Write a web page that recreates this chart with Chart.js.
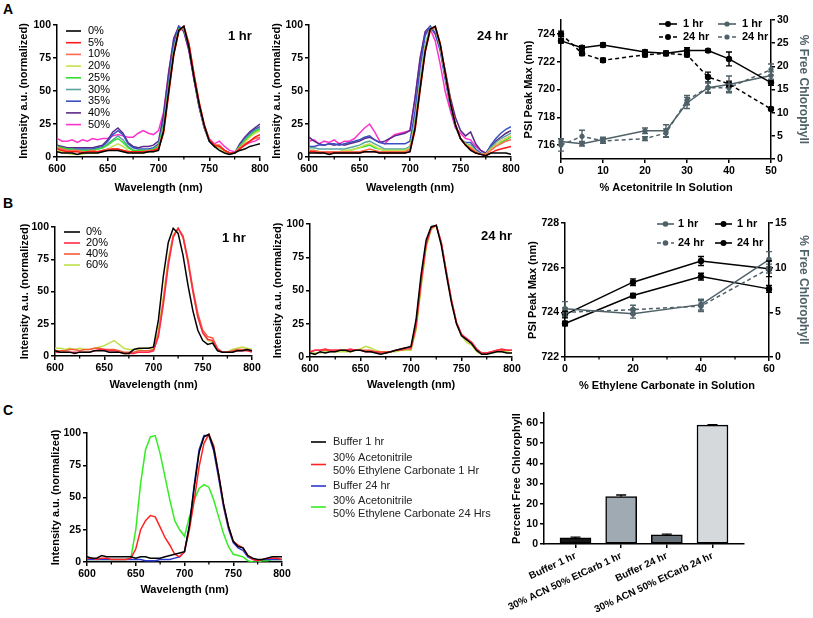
<!DOCTYPE html>
<html><head><meta charset="utf-8">
<script src="https://cdn.jsdelivr.net/npm/chart.js@4.4.1/dist/chart.umd.min.js"></script>
<style>
html,body{margin:0;padding:0;background:#fff;}
body{width:813px;height:618px;position:relative;overflow:hidden;}
canvas{position:absolute;}
.pl{position:absolute;font:bold 14px "Liberation Sans",Arial,sans-serif;line-height:14px;color:#000;}
</style></head><body>
<div class="pl" style="left:3px;top:2px">A</div>
<div class="pl" style="left:3px;top:196px">B</div>
<div class="pl" style="left:3px;top:403px">C</div>
<canvas id="cA1"></canvas><canvas id="cA2"></canvas><canvas id="cA3"></canvas>
<canvas id="cB1"></canvas><canvas id="cB2"></canvas><canvas id="cB3"></canvas>
<canvas id="cC2"></canvas><canvas id="cC1"></canvas>
<script>
// ---------- shared axis values ----------
const WL = [600,605,610,615,620,625,630,635,640,645,650,655,660,665,670,675,680,685,690,695,700,705,710,715,720,725,730,735,740,745,750,755,760,765,770,775,780,785,790,795,800];
const WL_TICKS = [600,650,700,750,800];
const WL_MINOR = [625,675,725,775];
const INT_TICKS = [0,25,50,75,100];

// ---------- A: acetonitrile, 1 hr ----------
const A_LABELS = ['0%','5%','10%','20%','25%','30%','35%','40%','50%'];
const A1_0  = [4,3,3,3,2,3,3,3,3,4,5,5,5,4,3,3,3,3,4,4,5,20,50,78,96,99,83,60,40,24,12,8,5,3,2,3,5,6,8,9,10];
const A1_5  = [6,5,4,4,4,3,4,4,4,5,5,6,6,5,4,4,4,4,4,5,6,18,47,77,95,99,86,63,42,25,13,9,8,5,3,3,6,9,12,15,17];
const A1_10 = [7,6,5,5,5,4,4,5,4,5,6,6,6,5,4,4,4,4,5,5,7,20,49,79,96,99,85,62,41,24,13,9,9,5,3,3,7,10,12,14,15];
const A1_20 = [5,4,3,2,2,2,3,3,3,4,6,8,10,8,5,3,3,3,4,4,6,21,50,79,96,98,85,62,41,24,13,8,7,4,3,3,7,11,15,18,20];
const A1_25 = [8,7,6,6,5,5,5,5,6,7,9,12,14,11,7,5,5,5,5,6,8,23,52,80,97,98,84,61,40,24,13,9,8,5,3,3,8,12,16,19,21];
const A1_30 = [7,6,5,5,5,5,5,5,6,7,10,13,16,13,8,5,5,5,5,6,9,25,54,82,97,97,84,61,40,23,12,8,7,4,3,3,8,13,17,20,22];
const A1_35 = [8,7,6,6,6,6,6,6,7,8,12,17,20,17,10,7,6,6,6,7,10,27,58,86,99,96,82,60,39,23,12,8,8,5,3,3,9,14,18,21,23];
const A1_40 = [9,8,7,7,7,7,7,7,8,9,13,19,22,18,11,8,7,8,8,9,12,32,64,90,99,95,81,59,38,22,12,8,8,5,3,3,10,15,19,22,25];
const A1_50 = [14,12,12,13,11,13,12,14,13,14,14,16,17,16,15,15,18,20,18,17,20,34,64,88,99,95,80,58,38,23,14,10,12,8,5,4,7,9,11,12,14];

// ---------- A: acetonitrile, 24 hr ----------
const A2_0  = [3,3,3,3,2,3,3,3,3,3,3,4,4,4,3,3,3,3,3,3,4,22,52,80,97,99,85,63,41,24,14,9,5,3,2,1,3,3,3,3,2];
const A2_5  = [4,4,3,3,3,3,3,3,3,3,3,4,4,4,3,3,3,3,3,3,4,20,50,79,96,99,86,64,42,25,14,9,6,3,2,1,3,5,6,7,8];
const A2_10 = [5,5,4,4,4,4,4,4,4,4,4,5,6,5,4,4,4,4,4,4,6,23,53,81,97,98,85,63,41,24,14,9,7,4,2,2,5,8,10,12,13];
const A2_20 = [5,5,4,4,4,4,4,5,5,6,7,9,10,8,6,5,5,5,5,5,7,25,55,83,97,98,84,62,41,24,14,10,8,4,2,2,6,9,12,14,16];
const A2_25 = [5,5,4,4,4,4,4,5,5,6,7,8,9,7,6,5,5,5,5,5,7,25,55,83,97,98,84,62,41,24,14,10,8,4,2,2,6,9,11,13,15];
const A2_30 = [7,7,6,6,6,6,6,6,7,8,9,11,12,10,8,6,6,6,6,6,8,28,58,85,98,97,83,61,40,24,14,10,9,5,2,2,7,11,14,16,18];
const A2_35 = [8,8,9,9,10,10,9,10,11,12,13,15,16,13,11,10,10,10,10,10,12,35,68,92,99,94,80,58,38,23,14,11,11,6,3,2,9,14,18,21,23];
const A2_40 = [15,12,10,9,10,9,10,9,10,11,12,14,15,13,11,12,14,16,17,18,20,45,75,95,99,93,82,65,45,30,20,16,19,10,5,3,8,12,15,18,20];
const A2_50 = [12,13,10,12,11,13,10,12,12,14,18,22,25,19,12,10,14,17,18,19,20,44,74,94,97,88,70,49,35,22,18,14,13,8,5,3,6,9,12,14,16];

const A_COLORS = ['#000000','#ff1a1a','#ff6a4d','#c8e04a','#33dd33','#5aa5a0','#3a4fc0','#5a2a8a','#ff33cc'];

// ---------- A: peak max & free chlorophyll ----------
const ACN = [0,5,10,20,25,30,35,40,50];
const ACN_TICKS = [0,10,20,30,40,50];
const PEAK_TICKS_A = [716,718,720,722,724];
const FREE_TICKS_A = [0,5,10,15,20,25,30];
const A3_PEAK_1H      = [723.5,723.0,723.2,722.7,722.6,722.8,722.8,722.2,720.5];
const A3_PEAK_1H_ERR  = [0.15,0.15,0.15,0.15,0.15,0.2,0.1,0.5,0.2];
const A3_PEAK_24H     = [724.0,722.6,722.1,722.5,722.6,722.5,720.9,720.4,718.6];
const A3_PEAK_24H_ERR = [0.2,0.15,0.15,0.15,0.15,0.15,0.35,0.2,0.1];
const A3_FREE_1H      = [3.8,3.3,4.2,6.1,6.1,12.1,15.4,16.1,18.0];
const A3_FREE_1H_ERR  = [0.6,0.5,0.5,0.6,1.3,1.2,1.2,1.8,0.8];
const A3_FREE_24H     = [3.0,4.9,3.9,4.4,5.6,12.7,15.4,15.4,19.3];
const A3_FREE_24H_ERR = [1.3,1.3,0.5,0.4,0.9,1.0,1.0,0.8,1.2];

// ---------- B: ethylene carbonate ----------
const B_LABELS = ['0%','20%','40%','60%'];
const B_COLORS = ['#000000','#ff2a4a','#f45a3a','#bfe04a'];
const B1_0  = [4,3,3,3,2,3,3,3,4,4,4,3,3,3,2,2,5,6,6,6,7,28,62,88,99,95,78,55,35,20,12,9,10,4,3,3,3,4,4,5,4];
const B1_20 = [3,3,3,3,3,3,3,3,4,5,5,4,4,3,2,2,2,3,3,3,4,15,40,70,92,99,92,73,50,30,18,13,12,5,3,3,3,4,4,4,3];
const B1_40 = [4,4,4,5,5,4,5,5,6,6,5,5,5,4,3,3,3,4,4,4,5,17,43,73,93,99,93,75,52,33,20,15,14,6,3,3,4,5,5,5,4];
const B1_60 = [6,6,5,6,5,6,5,5,6,7,8,10,12,9,6,5,5,5,6,6,6,20,46,75,94,99,92,73,50,31,18,12,11,5,3,3,5,6,7,6,5];
const B2_0  = [3,2,4,3,4,4,5,5,4,5,5,4,4,3,2,3,4,5,6,7,8,28,62,88,98,99,84,62,41,25,16,13,10,5,2,2,3,4,4,3,3];
const B2_20 = [4,5,5,6,5,5,5,5,6,5,5,4,4,4,3,3,4,5,6,7,7,24,58,85,97,99,86,64,43,26,17,14,11,6,3,3,4,5,6,5,5];
const B2_40 = [4,5,5,5,5,5,5,5,5,5,5,5,5,4,4,4,4,5,5,6,6,22,55,84,97,99,86,64,43,26,17,13,11,6,3,3,4,5,5,5,5];
const B2_60 = [3,3,3,4,4,4,4,4,4,5,6,8,7,5,4,3,4,4,5,5,5,20,52,82,96,99,86,64,43,26,16,11,9,4,2,2,3,4,4,4,3];

const EC = [0,20,40,60];
const EC_TICKS = [0,20,40,60];
const EC_MINOR = [10,30,50];
const PEAK_TICKS_B = [722,724,726,728];
const FREE_TICKS_B = [0,5,10,15];
const B3_FREE_1H      = [5.4,4.85,5.86,10.9];
const B3_FREE_1H_ERR  = [0.8,0.5,0.6,0.9];
const B3_FREE_24H     = [5.0,5.3,5.7,9.9];
const B3_FREE_24H_ERR = [0.5,0.5,0.6,0.5];
const B3_PEAK_1H      = [723.5,724.75,725.6,725.05];
const B3_PEAK_1H_ERR  = [0.1,0.1,0.15,0.15];
const B3_PEAK_24H     = [723.9,725.35,726.3,725.95];
const B3_PEAK_24H_ERR = [0.15,0.15,0.2,0.35];

// ---------- C ----------
const C_COLORS = ['#000000','#ff2222','#2a3ad0','#33ee22'];
const C1_BUF1  = [4,3,3,5,4,4,4,4,4,4,3,4,4,3,3,3,4,5,6,7,8,28,58,85,97,99,88,68,45,28,16,12,11,5,3,2,2,3,4,4,4];
const C1_MIX1  = [3,3,2,3,3,2,2,2,2,3,10,25,32,36,35,27,19,13,6,4,8,25,48,74,92,99,90,68,45,28,16,13,11,5,2,1,2,3,3,3,2];
const C1_BUF24 = [2,2,2,2,2,2,2,2,2,2,2,2,1,1,1,2,2,2,3,4,8,28,60,87,98,98,86,65,43,26,15,11,9,4,2,1,2,2,2,2,2];
const C1_MIX24 = [2,2,2,2,2,2,2,2,2,3,25,61,87,97,98,84,66,48,32,25,20,35,48,57,60,58,48,35,22,12,6,5,4,1,0,0,1,1,2,2,2];

const C2_LABELS = ['Buffer 1 hr','30% ACN 50% EtCarb 1 hr','Buffer 24 hr','30% ACN 50% EtCarb 24 hr'];
const C2_VALUES = [3.0,23.5,4.5,59.0];
const C2_ERR    = [0.4,0.8,0.4,0.2];
const C2_COLORS = ['#151515','#a0aab2','#6a7279','#d5d9db'];
const C2_TICKS  = [0,10,20,30,40,50,60];

// ---------- plugins ----------
const FF = '"Liberation Sans", Arial, Helvetica, sans-serif';
const GRAY = '#4f6168';

const overlayPlugin = {
  id: 'overlay',
  afterDraw(chart, args, opts) {
    const ctx = chart.ctx;
    const ox = parseFloat(chart.canvas.style.left), oy = parseFloat(chart.canvas.style.top);
    ctx.save();
    (opts.minorX || []).forEach(v => {
      const s = chart.scales.x, px = s.getPixelForValue(v);
      ctx.strokeStyle = '#000'; ctx.lineWidth = 1.3;
      ctx.beginPath(); ctx.moveTo(px, s.top); ctx.lineTo(px, s.top + 2.5); ctx.stroke();
    });
    (opts.items || []).forEach(it => {
      if (it.line) {
        ctx.strokeStyle = it.color; ctx.lineWidth = it.lw || 1.6;
        ctx.setLineDash(it.dash || []);
        ctx.beginPath(); ctx.moveTo(it.line[0] - ox, it.y - oy); ctx.lineTo(it.line[1] - ox, it.y - oy); ctx.stroke();
        ctx.setLineDash([]);
        if (it.dot) {
          ctx.fillStyle = it.color; ctx.beginPath();
          ctx.arc((it.line[0] + it.line[1]) / 2 - ox, it.y - oy, it.dot, 0, Math.PI * 2); ctx.fill();
        }
      }
      if (it.text) {
        ctx.fillStyle = it.tcolor || '#000'; ctx.font = it.font; ctx.textBaseline = 'middle'; ctx.textAlign = 'left';
        const lines = Array.isArray(it.text) ? it.text : [it.text];
        const lh = it.lh || 13;
        lines.forEach((t, i) => ctx.fillText(t, it.tx - ox, it.y - oy + (i - (lines.length - 1) / 2) * lh));
      }
    });
    ctx.restore();
  }
};

const errorPlugin = {
  id: 'errbars',
  afterDatasetsDraw(chart) {
    const ctx = chart.ctx;
    chart.data.datasets.forEach((ds, i) => {
      if (!ds.errors) return;
      const meta = chart.getDatasetMeta(i);
      const ys = chart.scales[meta.yAxisID];
      ctx.save();
      ctx.strokeStyle = ds.errorColor || ds.borderColor; ctx.lineWidth = 1.4;
      const cap = ds.cap || 3;
      meta.data.forEach((el, j) => {
        const e = ds.errors[j]; if (!e) return;
        const d = ds.data[j]; const v = typeof d === 'object' ? d.y : d;
        const x = el.x, yt = ys.getPixelForValue(v + e), yb = ds.upOnly ? ys.getPixelForValue(v) : ys.getPixelForValue(v - e);
        ctx.beginPath();
        ctx.moveTo(x, yb); ctx.lineTo(x, yt);
        ctx.moveTo(x - cap, yt); ctx.lineTo(x + cap, yt);
        if (!ds.upOnly) { ctx.moveTo(x - cap, yb); ctx.lineTo(x + cap, yb); }
        ctx.stroke();
      });
      ctx.restore();
    });
  }
};
Chart.register(overlayPlugin, errorPlugin);
Chart.defaults.font.family = FF;
Chart.defaults.color = '#000';

// ---------- helpers ----------
function axis(min, max, ticks, title, opts = {}) {
  return Object.assign({
    type: 'linear', min, max,
    border: { display: true, color: '#000', width: 1.5 },
    grid: { display: true, drawOnChartArea: false, drawTicks: true, tickLength: 4, color: '#000', lineWidth: 1.5 },
    ticks: { color: '#000', font: { family: FF, size: opts.tickSize || 10.5, weight: 'bold' }, padding: 2, maxRotation: 0, autoSkip: false },
    title: { display: !!title, text: title, color: opts.titleColor || '#000', padding: opts.titlePad || 2,
             font: { family: FF, size: opts.titleSize || 11, weight: 'bold' } },
    afterBuildTicks: s => { s.ticks = ticks.map(v => ({ value: v })); }
  }, opts.extra || {});
}

function place(id, box, area, cfg) {
  const cv = document.getElementById(id);
  cv.width = box.w; cv.height = box.h;
  cv.style.left = box.x + 'px'; cv.style.top = box.y + 'px';
  cv.style.width = box.w + 'px'; cv.style.height = box.h + 'px';
  const o = cfg.options;
  o.responsive = false; o.animation = false; o.devicePixelRatio = 1; o.maintainAspectRatio = false;
  const hasRight = !!o.scales.y2;
  o.layout = { padding: { left: 0, top: area.T - box.y, right: hasRight ? 0 : box.x + box.w - area.R, bottom: 0 } };
  o.scales.x.afterFit = s => { s.height = box.y + box.h - area.B; };
  o.scales.y.afterFit = s => { s.width = area.L - box.x; };
  if (hasRight) o.scales.y2.afterFit = s => { s.width = box.x + box.w - area.R; };
  o.plugins = Object.assign({ legend: { display: false }, tooltip: { enabled: false } }, o.plugins || {});
  return new Chart(cv, cfg);
}

function specSets(arrs, colors) {
  return arrs.map((a, k) => ({
    data: WL.map((w, i) => ({ x: w, y: a[i] })),
    borderColor: colors[k], borderWidth: 1.5, pointRadius: 0, fill: false, tension: 0
  }));
}

function spectrum(id, box, area, arrs, colors, items) {
  return place(id, box, area, {
    type: 'line',
    data: { datasets: specSets(arrs, colors) },
    options: {
      scales: {
        x: axis(600, 800, WL_TICKS, 'Wavelength (nm)'),
        y: axis(0, 100, INT_TICKS, 'Intensity a.u. (normalized)')
      },
      plugins: { overlay: { minorX: WL_MINOR, items } }
    }
  });
}

function legendRows(labels, colors, x1, x2, tx, y0, dy, font) {
  return labels.map((t, i) => ({ line: [x1, x2], y: y0 + dy * i, color: colors[i], text: t, tx, font }));
}

const LEG_FONT = '11px ' + FF;
const HR_FONT = 'bold 13px ' + FF;

// ---------- A1 ----------
spectrum('cA1', { x: 15, y: 10, w: 259, h: 187 }, { L: 57, T: 25, R: 260, B: 157 },
  [A1_0, A1_5, A1_10, A1_20, A1_25, A1_30, A1_35, A1_40, A1_50], A_COLORS,
  legendRows(A_LABELS, A_COLORS, 66, 81, 88, 31, 11.7, LEG_FONT).concat([{ text: '1 hr', tx: 228, y: 36, font: HR_FONT }]));

// ---------- A2 ----------
spectrum('cA2', { x: 268, y: 10, w: 257, h: 187 }, { L: 309, T: 25, R: 511, B: 157 },
  [A2_0, A2_5, A2_10, A2_20, A2_25, A2_30, A2_35, A2_40, A2_50], A_COLORS,
  [{ text: '24 hr', tx: 477, y: 36, font: HR_FONT }]);

// ---------- A3 ----------
function ptSet(xs, ys, errs, color, axisId, dashed, r) {
  return {
    data: xs.map((x, i) => ({ x, y: ys[i] })), errors: errs, yAxisID: axisId,
    borderColor: color, backgroundColor: color, borderWidth: 1.5, borderDash: dashed ? [4, 3] : [],
    pointRadius: r, pointHoverRadius: r, pointBorderWidth: 0, pointBackgroundColor: color, fill: false, tension: 0, clip: false
  };
}
const A3_FONT = 'bold 11px ' + FF;
place('cA3', { x: 520, y: 8, w: 293, h: 189 }, { L: 561, T: 20, R: 771, B: 159 }, {
  type: 'line',
  data: { datasets: [
    ptSet(ACN, A3_PEAK_1H, A3_PEAK_1H_ERR, '#000', 'y', false, 3.2),
    ptSet(ACN, A3_PEAK_24H, A3_PEAK_24H_ERR, '#000', 'y', true, 3.2),
    ptSet(ACN, A3_FREE_1H, A3_FREE_1H_ERR, GRAY, 'y2', false, 2.6),
    ptSet(ACN, A3_FREE_24H, A3_FREE_24H_ERR, GRAY, 'y2', true, 2.6)
  ] },
  options: {
    scales: {
      x: axis(0, 50, ACN_TICKS, '% Acetonitrile In Solution'),
      y: axis(715, 725, PEAK_TICKS_A, 'PSI Peak Max (nm)'),
      y2: axis(0, 30, FREE_TICKS_A, '% Free Chlorophyll', { titleColor: GRAY, titleSize: 12, extra: { position: 'right' } })
    },
    plugins: { overlay: { items: [
      { line: [659, 677], y: 24, color: '#000', dot: 3, text: '1 hr', tx: 683, font: A3_FONT },
      { line: [659, 677], y: 37, color: '#000', dash: [4, 3], dot: 3, text: '24 hr', tx: 683, font: A3_FONT },
      { line: [718, 736], y: 24, color: GRAY, dot: 2.6, text: '1 hr', tx: 742, font: A3_FONT },
      { line: [718, 736], y: 37, color: GRAY, dash: [4, 3], dot: 2.6, text: '24 hr', tx: 742, font: A3_FONT }
    ] } }
  }
});

// ---------- B1, B2 ----------
spectrum('cB1', { x: 16, y: 210, w: 250, h: 184 }, { L: 55, T: 227, R: 252, B: 356 },
  [B1_0, B1_20, B1_40, B1_60], B_COLORS,
  legendRows(B_LABELS, B_COLORS, 64, 80, 86, 232, 11, LEG_FONT).concat([{ text: '1 hr', tx: 222, y: 238, font: HR_FONT }]));
spectrum('cB2', { x: 269, y: 208, w: 257, h: 186 }, { L: 310, T: 224, R: 512, B: 357 },
  [B2_0, B2_20, B2_40, B2_60], B_COLORS,
  [{ text: '24 hr', tx: 481, y: 236, font: HR_FONT }]);

// ---------- B3 ----------
place('cB3', { x: 524, y: 208, w: 289, h: 187 }, { L: 565, T: 223, R: 769, B: 357 }, {
  type: 'line',
  data: { datasets: [
    ptSet(EC, B3_FREE_1H, B3_FREE_1H_ERR, GRAY, 'y2', false, 2.8),
    ptSet(EC, B3_FREE_24H, B3_FREE_24H_ERR, GRAY, 'y2', true, 2.8),
    ptSet(EC, B3_PEAK_1H, B3_PEAK_1H_ERR, '#000', 'y', false, 3.2),
    ptSet(EC, B3_PEAK_24H, B3_PEAK_24H_ERR, '#000', 'y', false, 3.2)
  ] },
  options: {
    scales: {
      x: axis(0, 60, EC_TICKS, '% Ethylene Carbonate in Solution'),
      y: axis(722, 728, PEAK_TICKS_B, 'PSI Peak Max (nm)'),
      y2: axis(0, 15, FREE_TICKS_B, '% Free Chlorophyll', { titleColor: GRAY, titleSize: 12, extra: { position: 'right' } })
    },
    plugins: { overlay: { minorX: EC_MINOR, items: [
      { line: [657, 674], y: 224, color: GRAY, dot: 2.8, text: '1 hr', tx: 678, font: A3_FONT },
      { line: [657, 674], y: 243, color: GRAY, dash: [4, 3], dot: 2.8, text: '24 hr', tx: 678, font: A3_FONT },
      { line: [715, 732], y: 224, color: '#000', dot: 3, text: '1 hr', tx: 737, font: A3_FONT },
      { line: [715, 732], y: 243, color: '#000', dot: 3, text: '24 hr', tx: 737, font: A3_FONT }
    ] } }
  }
});

// ---------- C1 ----------
const C_FONT = '11px ' + FF;
spectrum('cC1', { x: 47, y: 415, w: 463, h: 184 }, { L: 87, T: 433, R: 282, B: 562 },
  [C1_BUF1, C1_MIX1, C1_BUF24, C1_MIX24], C_COLORS,
  [
    { line: [311, 326], y: 442, color: C_COLORS[0], text: 'Buffer 1 hr', tx: 333, font: C_FONT, tcolor: '#222' },
    { line: [311, 326], y: 464.5, color: C_COLORS[1], text: ['30% Acetonitrile', '50% Ethylene Carbonate 1 Hr'], lh: 13, tx: 333, font: C_FONT, tcolor: '#222' },
    { line: [311, 326], y: 486, color: C_COLORS[2], text: 'Buffer 24 hr', tx: 333, font: C_FONT, tcolor: '#222' },
    { line: [311, 326], y: 507, color: C_COLORS[3], text: ['30% Acetonitrile', '50% Ethylene Carbonate 24 Hrs'], lh: 13, tx: 333, font: C_FONT, tcolor: '#222' }
  ]);

// ---------- C2 ----------
place('cC2', { x: 490, y: 400, w: 270, h: 218 }, { L: 544, T: 413, R: 744, B: 544 }, {
  type: 'bar',
  data: { datasets: [{
    data: C2_VALUES.map((v, i) => ({ x: i, y: v })), errors: C2_ERR, upOnly: true, cap: 5, errorColor: '#000',
    backgroundColor: C2_COLORS, borderColor: '#000', borderWidth: 1.5, barThickness: 31, borderSkipped: false
  }] },
  options: {
    scales: {
      x: axis(-0.69, 3.69, [0, 1, 2, 3], '', { tickSize: 10, extra: { offset: false } }),
      y: axis(0, 65, C2_TICKS, 'Percent Free Chlorophyll', { titlePad: { top: 20, bottom: 2 } })
    },
    plugins: { overlay: { items: [] } }
  }
});
(function fixC2() {
  const ch = Chart.getChart('cC2');
  const x = ch.options.scales.x;
  x.grid.offset = false;
  x.ticks.maxRotation = 25; x.ticks.minRotation = 25;
  x.ticks.callback = v => C2_LABELS[v];
  ch.update();
})();
</script>
</body></html>
